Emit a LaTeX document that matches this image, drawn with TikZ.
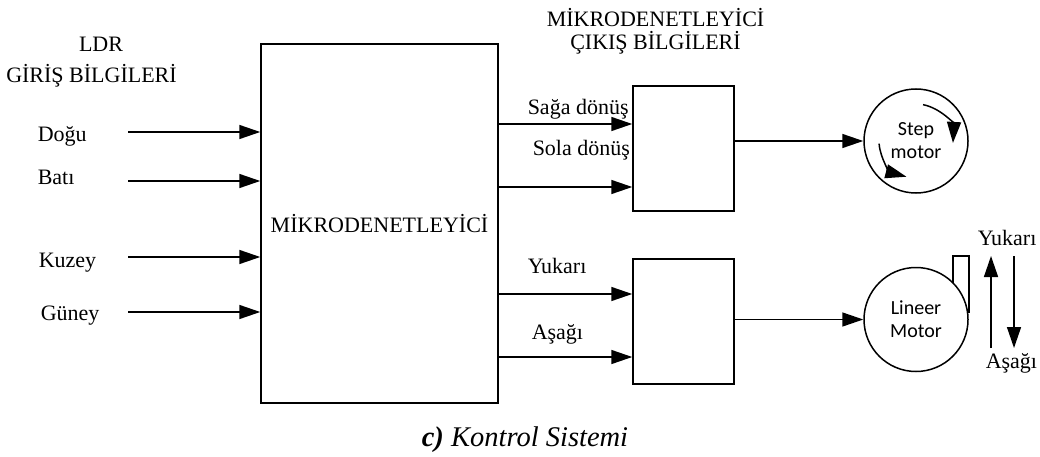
\documentclass[tikz,border=0pt]{standalone}
\usepackage{fontspec}
\setmainfont{Liberation Serif}
\newfontfamily\motorfont{Carlito}
\usetikzlibrary{arrows.meta}
\begin{document}
\begin{tikzpicture}[x=1pt,y=-1pt,
  line width=1.5pt,
  arr/.style={-{Triangle[length=21pt,width=14pt]}},
  blockbox/.style={draw,rectangle,inner sep=0pt},
  motorcirc/.style={draw,circle,fill=white,minimum size=104pt,inner sep=0pt,align=center,
    font=\motorfont\fontsize{20}{23}\selectfont},
  lbl/.style={inner sep=0pt,font=\fontsize{22}{26}\selectfont}]
\useasboundingbox (0,0) rectangle (1040,457);

% blocks
\node[blockbox,minimum width=237pt,minimum height=359pt,font=\fontsize{22}{26}\selectfont] (mcu) at (379.5,223.5) {MİKRODENETLEYİCİ};
\node[blockbox,minimum width=101pt,minimum height=125pt] (b1) at (683.5,148.5) {};
\node[blockbox,minimum width=101pt,minimum height=125pt] (b2) at (683.5,321.5) {};

% motors
\node[motorcirc] (step) at (916,141) {Step\\motor};
\draw (953,256) rectangle (969,312);
\node[motorcirc] (lin) at (916,319.5) {Lineer\\Motor};

% step motor rotation arrows (canvas angles)
\draw[arr] ([shift={(79:37pt)}]step.center) arc[start angle=79,end angle=-3,radius=37pt];
\draw[arr] ([shift={(184:37pt)}]step.center) arc[start angle=184,end angle=255,radius=37pt];

% input labels
\node[lbl,anchor=base] (ldr) at (101,52) {LDR};
\node[lbl,anchor=base] (giris) at (91.5,83) {GİRİŞ BİLGİLERİ};
\node[lbl,anchor=base west] (dogu) at (37,142) {Doğu};
\node[lbl,anchor=base west] (bati) at (37,185) {Batı};
\node[lbl,anchor=base west] (kuzey) at (38,267) {Kuzey};
\node[lbl,anchor=base west] (guney) at (40,320) {Güney};

% input arrows
\coordinate (i1) at (128,132);
\coordinate (i2) at (128,181);
\coordinate (i3) at (128,257);
\coordinate (i4) at (128,312);
\foreach \c in {i1,i2,i3,i4}{\draw[arr] (\c) -- (\c -| mcu.west);}

% output labels
\node[lbl,anchor=base] (outa) at (655.5,27) {MİKRODENETLEYİCİ};
\node[lbl,anchor=base] (outb) at (655.5,50) {ÇIKIŞ BİLGİLERİ};
\node[lbl,anchor=base west] (saga) at (527,115) {Sağa dönüş};
\node[lbl,anchor=base west] (sola) at (532,156) {Sola dönüş};
\node[lbl,anchor=base west] (yuk) at (527,273) {Yukarı};
\node[lbl,anchor=base west] (asa) at (531,339) {Aşağı};

% output arrows
\coordinate (o1) at (mcu.east |- 0,124);
\coordinate (o2) at (mcu.east |- 0,187);
\coordinate (o3) at (mcu.east |- 0,294);
\coordinate (o4) at (mcu.east |- 0,357);
\draw[arr] (o1) -- (o1 -| b1.west);
\draw[arr] (o2) -- (o2 -| b1.west);
\draw[arr] (o3) -- (o3 -| b2.west);
\draw[arr] (o4) -- (o4 -| b2.west);

% to motors
\draw[arr] (b1.east |- step.west) -- (step.west);
\draw[arr] (b2.east |- lin.west) -- (lin.west);

% linear motion arrows
\coordinate (u1) at (991,348);
\coordinate (u2) at (991,256);
\coordinate (d1) at (1014,256);
\coordinate (d2) at (1014,348);
\draw[arr] (u1) -- (u2);
\draw[arr] (d1) -- (d2);
\node[lbl,anchor=base west] (ryuk) at (977,245) {Yukarı};
\node[lbl,anchor=base west] (rasa) at (985,368) {Aşağı};

% caption
\node[inner sep=0pt,anchor=base,font=\fontsize{28.5}{32}\selectfont\itshape] (cap) at (525,446) {\textbf{c)} Kontrol Sistemi};
\end{tikzpicture}
\end{document}
